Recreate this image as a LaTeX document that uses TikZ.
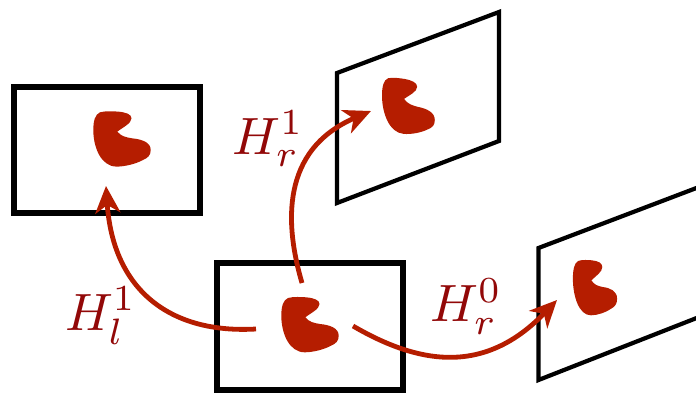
\documentclass[tikz,border=0pt]{standalone}
\usetikzlibrary{arrows.meta}
\definecolor{blobred}{HTML}{B51D00}
\definecolor{labred}{HTML}{920808}
\tikzset{
  frame/.style={draw=black,line width=5.4pt,line join=miter},
  skew/.style={draw=black,line width=4.2pt,line join=miter},
  warp/.style={draw=blobred,line width=4.8pt,-{Stealth[length=27pt,width=25pt,inset=8pt]}},
  lab/.style={text=labred,scale=5.25,inner sep=0pt,anchor=base west},
  pics/blob/.style={code={
    \fill[blobred] (-22,-27) .. controls (-17,-28.5) and (-8,-28) .. (-4,-27.7)
      .. controls (4,-27) and (9.5,-25) .. (9.5,-21)
      .. controls (9.5,-16) and (1,-12) .. (-4.7,-7.7)
      .. controls (-1,-3) and (4,-2) .. (10,-1)
      .. controls (20,0) and (28.7,3) .. (28.7,10.7)
      .. controls (28.7,16) and (26,18.5) .. (21,20.7)
      .. controls (14,24.5) and (3,27.3) .. (-5.3,27.3)
      .. controls (-21,27.3) and (-28.7,8) .. (-28.7,-9.3)
      .. controls (-28.7,-18) and (-27,-25) .. (-22,-27) -- cycle;
  }}
}
\begin{document}
\begin{tikzpicture}[x=1pt,y=-1pt]
\useasboundingbox (0,0) rectangle (696,392);
\path[frame] (14,87) rectangle (200,213);
\path[frame] (217,263) rectangle (403,390);
\path[skew] (337,73) -- (499,12) -- (499,141) -- (337,203) -- cycle;
\path[skew] (703,185.5) -- (538.5,248) -- (538.5,380) -- (703,315.5);
\pic at (122,139.3) {blob};
\pic at (310,325) {blob};
\pic[xscale=.92,yslant=-.08] at (408.4,107) {blob};
\pic[xscale=.77] at (595,288) {blob};
\coordinate (ls) at (256,329);
\coordinate (lt) at (106,186);
\coordinate (us) at (302,283);
\coordinate (ut) at (371,111);
\coordinate (rs) at (353,326);
\coordinate (rt) at (557,300);
\draw[warp] (ls) .. controls (170,334) and (113,290) .. (lt);
\draw[warp] (us) .. controls (285,225) and (280,150) .. (ut);
\draw[warp] (rs) .. controls (420,365) and (485,375) .. (rt);
\node[lab] (h1) at (231.5,154) {$H_r^1$};
\node[lab] (h2) at (64,330) {$H_l^1$};
\node[lab] (h3) at (429.5,321.7) {$H_r^0$};
\end{tikzpicture}
\end{document}
